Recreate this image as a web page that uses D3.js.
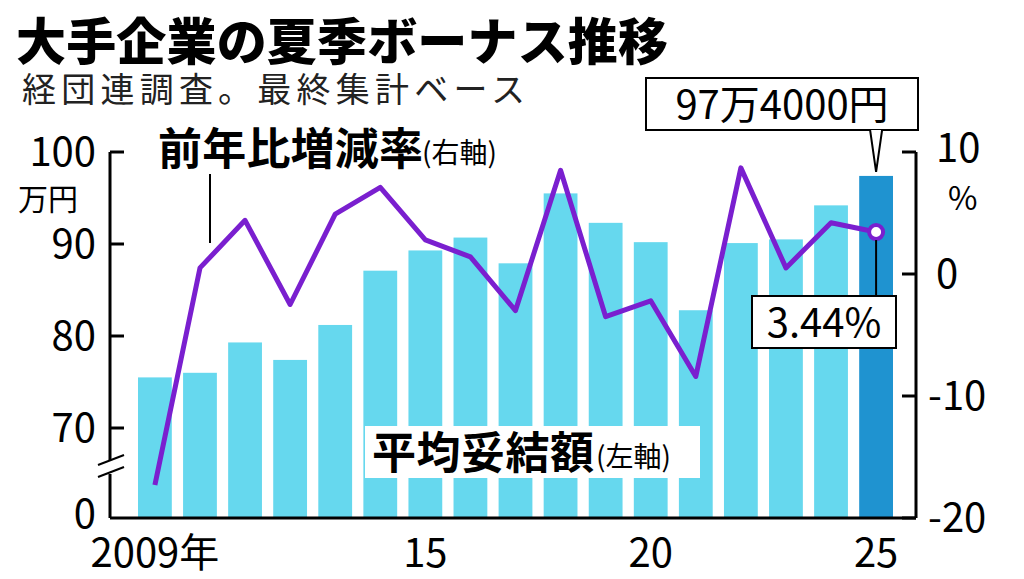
<!DOCTYPE html>
<html>
<head>
<meta charset="utf-8">
<script src="https://d3js.org/d3.v7.min.js"></script>
<style>
body{margin:0;background:#fff}
text{font-family:"Noto Sans CJK JP","Noto Sans",sans-serif}
</style>
</head>
<body>
<svg id="c" width="1024" height="579"></svg>
<script>
var years = [2009,2010,2011,2012,2013,2014,2015,2016,2017,2018,2019,2020,2021,2022,2023,2024,2025];
var bonus = [75.5,76.0,79.3,77.4,81.2,87.1,89.3,90.7,87.9,95.5,92.3,90.2,82.8,90.1,90.5,94.2,97.4];
var change = [-17.3,0.5,4.4,-2.5,4.9,7.1,2.8,1.4,-3.0,8.5,-3.5,-2.2,-8.4,8.7,0.5,4.2,3.44];
var leftTicks = [70,80,90,100];
var rightTicks = [-20,-10,0,10];
var xLabels = {2009:"2009年",2015:"15",2020:"20",2025:"25"};

var svg = d3.select("#c");
var x = d3.scaleBand().domain(years).range([138,893]).paddingInner(0.25).paddingOuter(0);
var yL = d3.scaleLinear().domain([70,100]).range([428,152]);
var yBase = 518;
var yR = d3.scaleLinear().domain([-20,10]).range([518,152]);

// title
svg.append("text").attr("x",16).attr("y",60).attr("font-size",50).attr("font-weight",900).attr("textLength",652).text("大手企業の夏季ボーナス推移");
svg.append("text").attr("x",22).attr("y",102).attr("font-size",34).attr("fill","#222").attr("textLength",503).text("経団連調査。最終集計ベース");

// bars
svg.selectAll("rect.bar").data(years).join("rect")
  .attr("x",d=>x(d)).attr("width",x.bandwidth())
  .attr("y",(d,i)=>yL(bonus[i])).attr("height",(d,i)=>yBase-yL(bonus[i]))
  .attr("fill",(d,i)=>i===years.length-1?"#1f93d0":"#66d8ee");

// left axis
var gl = svg.append("g");
gl.append("line").attr("x1",110).attr("x2",110).attr("y1",152).attr("y2",518).attr("stroke","#000").attr("stroke-width",3);
leftTicks.forEach(function(t){
  gl.append("line").attr("x1",110).attr("x2",124).attr("y1",yL(t)).attr("y2",yL(t)).attr("stroke","#000").attr("stroke-width",3);
  gl.append("text").attr("x",96).attr("y",yL(t)+14).attr("text-anchor","end").attr("font-size",40).text(t);
});
gl.append("text").attr("x",96).attr("y",yBase+10).attr("text-anchor","end").attr("font-size",40).text("0");
gl.append("text").attr("x",18).attr("y",210).attr("font-size",30).text("万円");
// axis break
gl.append("rect").attr("x",100).attr("y",460).attr("width",22).attr("height",14).attr("fill","#fff");
[460,472].forEach(function(yy){
  gl.append("line").attr("x1",98).attr("x2",124).attr("y1",yy+5).attr("y2",yy-5).attr("stroke","#000").attr("stroke-width",2);
});

// right axis
var gr = svg.append("g");
gr.append("line").attr("x1",916).attr("x2",916).attr("y1",152).attr("y2",518).attr("stroke","#000").attr("stroke-width",3);
rightTicks.forEach(function(t){
  gr.append("line").attr("x1",902).attr("x2",916).attr("y1",yR(t)).attr("y2",yR(t)).attr("stroke","#000").attr("stroke-width",3);
  gr.append("text").attr("x",t<0?928:936).attr("y",yR(t)+(t===10?10:14)).attr("font-size",40).text(t);
});
gr.append("text").attr("x",948).attr("y",210).attr("font-size",32).text("%");

// bottom axis
svg.append("line").attr("x1",110).attr("x2",916).attr("y1",yBase).attr("y2",yBase).attr("stroke","#000").attr("stroke-width",3);
years.forEach(function(yv){
  if(xLabels[yv]) svg.append("text").attr("x",x(yv)+x.bandwidth()/2).attr("y",567).attr("text-anchor","middle").attr("font-size",40).text(xLabels[yv]);
});

// line
var line = d3.line().x((d,i)=>x(years[i])+x.bandwidth()/2).y(d=>yR(d));
svg.append("path").datum(change).attr("d",line).attr("fill","none").attr("stroke","#7a1fcf").attr("stroke-width",5).attr("stroke-linejoin","round");
var lx = x(2025)+x.bandwidth()/2, ly = yR(change[16]);
svg.append("circle").attr("cx",lx).attr("cy",ly).attr("r",7).attr("fill","#fff").attr("stroke","#7a1fcf").attr("stroke-width",4);

// labels
svg.append("text").attr("x",158).attr("y",165).attr("font-size",44).attr("font-weight",700).attr("textLength",265).text("前年比増減率");
svg.append("text").attr("x",422).attr("y",163).attr("font-size",28).text("(右軸)");
svg.append("line").attr("x1",210).attr("x2",210).attr("y1",174).attr("y2",243).attr("stroke","#000").attr("stroke-width",2);

svg.append("rect").attr("x",365).attr("y",426).attr("width",335).attr("height",52).attr("fill","#fff");
svg.append("text").attr("x",372).attr("y",469).attr("font-size",44).attr("font-weight",700).attr("textLength",222).text("平均妥結額");
svg.append("text").attr("x",596).attr("y",467).attr("font-size",28).text("(左軸)");

// callouts
var bx = x(2025)+x.bandwidth()/2;
svg.append("rect").attr("x",646).attr("y",78).attr("width",272).attr("height",52).attr("fill","#fff").attr("stroke","#000").attr("stroke-width",2);
svg.append("text").attr("x",782).attr("y",119).attr("text-anchor","middle").attr("font-size",40).text("97万4000円");
svg.append("path").attr("d","M"+(bx-6)+",130 L"+bx+","+(yL(bonus[16])-4)+" L"+(bx+6)+",130").attr("fill","#fff").attr("stroke","#000").attr("stroke-width",2);

svg.append("line").attr("x1",lx).attr("x2",lx).attr("y1",ly+8).attr("y2",296).attr("stroke","#000").attr("stroke-width",2);
svg.append("rect").attr("x",752).attr("y",296).attr("width",144).attr("height",52).attr("fill","#fff").attr("stroke","#000").attr("stroke-width",2);
svg.append("text").attr("x",824).attr("y",337).attr("text-anchor","middle").attr("font-size",40).text("3.44%");
</script>
</body>
</html>
